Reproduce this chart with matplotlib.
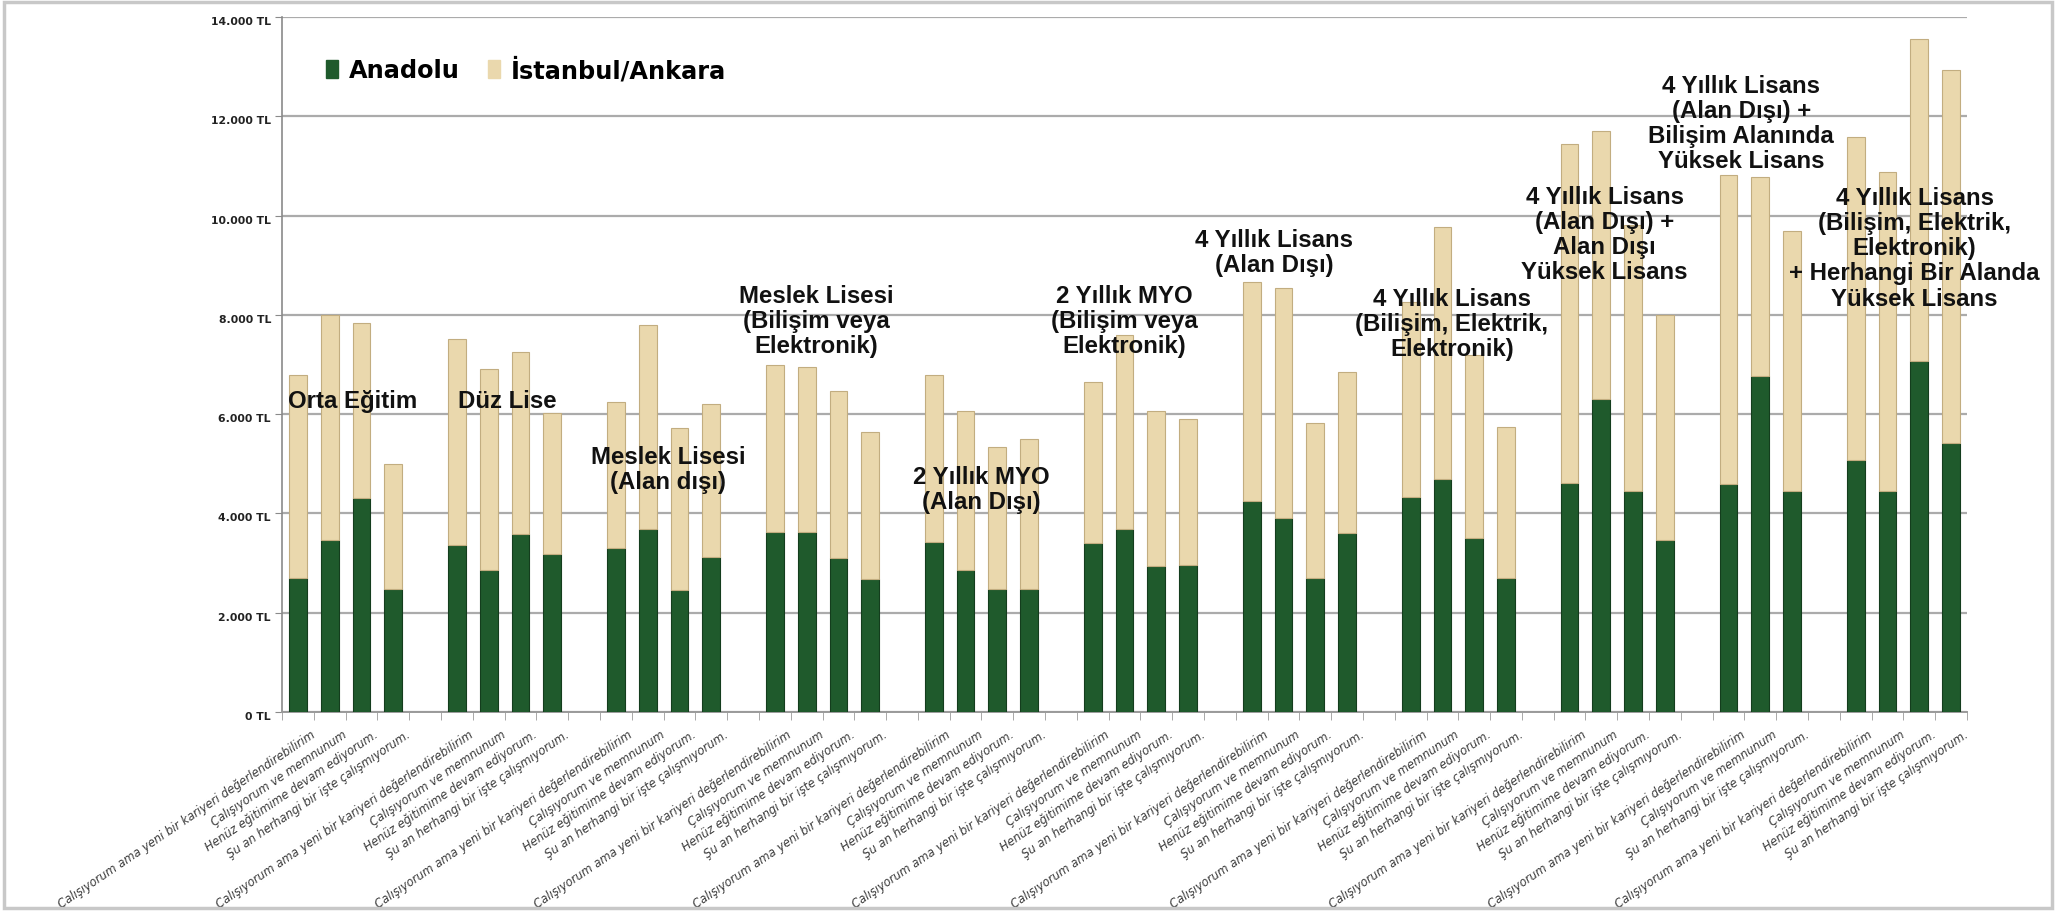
import matplotlib
matplotlib.use("Agg")
import matplotlib.pyplot as plt
import matplotlib.transforms as mtransforms
from matplotlib.patches import Rectangle

# ---------------- data ----------------
L1 = "Çalışıyorum ama yeni bir kariyeri değerlendirebilirim"
L2 = "Çalışıyorum ve memnunum"
L3 = "Henüz eğitimime devam ediyorum."
L4 = "Şu an herhangi bir işte çalışmıyorum."

group_titles = [
    "Orta Eğitim",
    "Düz Lise",
    "Meslek Lisesi\n(Alan dışı)",
    "Meslek Lisesi\n(Bilişim veya\nElektronik)",
    "2 Yıllık MYO\n(Alan Dışı)",
    "2 Yıllık MYO\n(Bilişim veya\nElektronik)",
    "4 Yıllık Lisans\n(Alan Dışı)",
    "4 Yıllık Lisans\n(Bilişim, Elektrik,\nElektronik)",
    "4 Yıllık Lisans\n(Alan Dışı) +\nAlan Dışı\nYüksek Lisans",
    "4 Yıllık Lisans\n(Alan Dışı) +\nBilişim Alanında\nYüksek Lisans",
    "4 Yıllık Lisans\n(Bilişim, Elektrik,\nElektronik)\n+ Herhangi Bir Alanda\nYüksek Lisans",
]

group_bar_labels = [
    [L1, L2, L3, L4], [L1, L2, L3, L4], [L1, L2, L3, L4], [L1, L2, L3, L4],
    [L1, L2, L3, L4], [L1, L2, L3, L4], [L1, L2, L3, L4], [L1, L2, L3, L4],
    [L1, L2, L3, L4], [L1, L2, L4], [L1, L2, L3, L4],
]

anadolu = [
    2700, 3460, 4320, 2470,
    3370, 2870, 3590, 3180,
    3310, 3680, 2460, 3130,
    3620, 3620, 3110, 2680,
    3420, 2870, 2470, 2470,
    3400, 3690, 2940, 2970,
    4250, 3910, 2700, 3600,
    4330, 4700, 3510, 2690,
    4610, 6300, 4460, 3460,
    4590, 6760, 4460,
    5070, 4460, 7080, 5420,
]

istanbul_ankara = [
    4080, 4530, 3520, 2520,
    4150, 4030, 3660, 2850,
    2930, 4110, 3260, 3070,
    3360, 3330, 3350, 2960,
    3360, 3190, 2870, 3020,
    3250, 3910, 3130, 2940,
    4420, 4640, 3120, 3250,
    3930, 5060, 3690, 3060,
    6840, 5410, 5340, 4530,
    6220, 4010, 5230,
    6520, 6420, 6480, 7520,
]

# title anchor positions (slot index, value)
title_x = [1.72, 6.57, 11.65, 16.3, 21.5, 26.0, 30.7, 36.3, 41.1, 45.4, 50.85]
title_y = [6275, 6275, 4890, 7890, 4500, 7890, 9260, 7830, 9630, 11860, 9350]

y_ticks = [0, 2000, 4000, 6000, 8000, 10000, 12000, 14000]

# ---------------- layout ----------------
GREEN = "#1f5a2c"
BEIGE = "#ead8ad"

positions, labels = [], []
slot = 0
for gi, labs in enumerate(group_bar_labels):
    for lab in labs:
        positions.append(slot)
        labels.append(lab)
        slot += 1
    if gi < len(group_bar_labels) - 1:
        slot += 1  # empty spacer slot
n_slots = slot

fig = plt.figure(figsize=(20.56, 9.12), dpi=100)
fig.patch.set_facecolor("white")
fig.patches.append(Rectangle((0.002, 0.003), 0.996, 0.994, transform=fig.transFigure,
                             fill=False, edgecolor="#c8c8c8", linewidth=2.5))

ax = fig.add_axes([0.1372, 0.2182, 0.8195, 0.7621])
ax.set_xlim(-0.5, n_slots - 0.5)
ax.set_ylim(0, 14000)

ax.set_axisbelow(True)
ax.yaxis.grid(True, color="#ababab", linewidth=1.6)
ax.xaxis.grid(False)

w = 0.56
ax.bar(positions, anadolu, width=w, color=GREEN, edgecolor="#143d1d",
       linewidth=0.8, label="Anadolu", zorder=3)
ax.bar(positions, istanbul_ankara, width=w, bottom=anadolu, color=BEIGE,
       edgecolor="#c2ad80", linewidth=0.8, label="İstanbul/Ankara", zorder=3)

# y axis
ax.set_yticks(y_ticks)
ax.set_yticklabels([f"{v:,.0f}".replace(",", ".") + " TL" for v in y_ticks],
                   fontsize=7.8, fontweight="bold", color="#222222")
ax.tick_params(axis="y", length=5, color="#8a8a8a", pad=3)
yshift = mtransforms.ScaledTranslation(0, -0.03, fig.dpi_scale_trans)
for lbl in ax.get_yticklabels():
    lbl.set_transform(lbl.get_transform() + yshift)

# x axis: labels at bar centres, ticks at slot boundaries
ax.set_xticks(positions)
ax.set_xticklabels(labels, rotation=34, ha="right", va="top",
                   rotation_mode="anchor", fontsize=8.4, style="italic",
                   color="#3c3c3c")
ax.tick_params(axis="x", length=0, pad=11)
shift = mtransforms.ScaledTranslation(0.12, 0, fig.dpi_scale_trans)
for lbl in ax.get_xticklabels():
    lbl.set_transform(lbl.get_transform() + shift)
ax.set_xticks([i - 0.5 for i in range(n_slots + 1)], minor=True)
ax.tick_params(axis="x", which="minor", length=6, color="#9a9a9a")

for side in ["top", "right"]:
    ax.spines[side].set_visible(False)
ax.spines["left"].set_color("#8a8a8a")
ax.spines["bottom"].set_color("#9a9a9a")
ax.spines["left"].set_linewidth(1.2)
ax.spines["bottom"].set_linewidth(1.4)

# group titles
for tx, ty, t in zip(title_x, title_y, group_titles):
    ax.text(tx, ty, t, ha="center", va="center", fontsize=17.3,
            family="Liberation Sans", fontweight="bold", color="#111111",
            linespacing=1.12, zorder=5)

# legend
handles = [Rectangle((0, 0), 1, 1, facecolor=GREEN, edgecolor=GREEN),
           Rectangle((0, 0), 1, 1, facecolor=BEIGE, edgecolor=BEIGE)]
leg = ax.legend(handles, ["Anadolu", "İstanbul/Ankara"], loc="upper left",
                bbox_to_anchor=(0.013, 0.974), ncol=2, frameon=False,
                prop={"size": 17.3, "weight": "bold"}, handlelength=0.5,
                handleheight=0.75, handletextpad=0.45, columnspacing=1.2)

fig.savefig("out.png", dpi=100, facecolor="white")
